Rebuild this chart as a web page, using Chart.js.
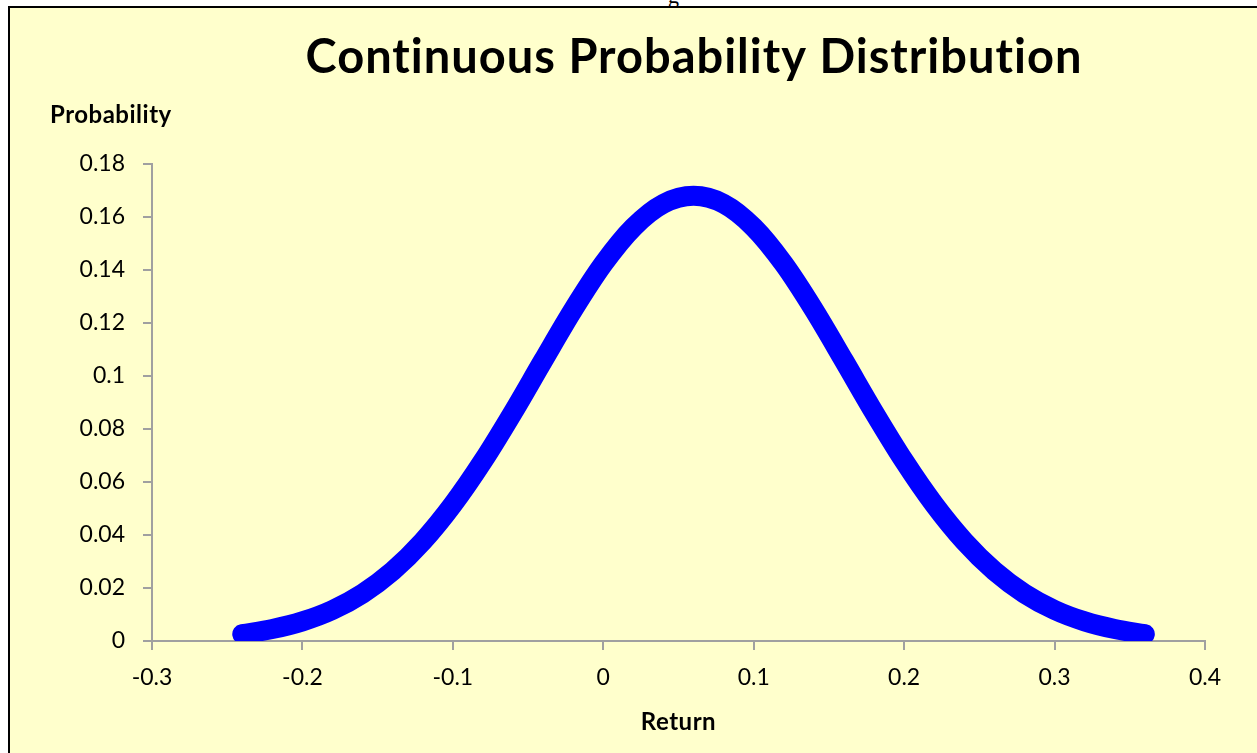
<!DOCTYPE html>
<html>
<head>
<meta charset="utf-8">
<script src="https://cdn.jsdelivr.net/npm/chart.js@4.4.0/dist/chart.umd.min.js"></script>
<style>
  html, body { margin: 0; padding: 0; background: #fff; overflow: hidden; }
  #frame {
    position: absolute; left: 8px; top: 6px; width: 1260px; height: 760px;
    border-left: 2px solid #000; border-top: 2px solid #000;
    background: #FFFFCC;
  }
  #clip { position: absolute; left: 668px; top: 0; width: 30px; height: 6px; overflow: hidden; }
  #clip span { position: absolute; top: -17px; left: 0; font: 22px "Liberation Serif", serif; color: #000; }
  #wrap { position: absolute; left: 0; top: 0; width: 1257px; height: 753px; }
</style>
</head>
<body>
<div id="clip"><span>g</span></div>
<div id="frame"></div>
<div id="wrap"><canvas id="dist-chart" width="1257" height="753"></canvas></div>
<script>
// values
var returns = [-0.24, -0.22, -0.20, -0.18, -0.16, -0.14, -0.12, -0.10, -0.08, -0.06, -0.04, -0.02,
               0.00, 0.02, 0.04, 0.06, 0.08, 0.10, 0.12, 0.14, 0.16, 0.18, 0.20, 0.22, 0.24,
               0.26, 0.28, 0.30, 0.32, 0.34, 0.36];
var probabilities = [0.0026, 0.0045, 0.0074, 0.0117, 0.0179, 0.0264, 0.0376, 0.0515, 0.0679, 0.0863, 0.1058, 0.1250,
                     0.1423, 0.1561, 0.1650, 0.1680, 0.1650, 0.1561, 0.1423, 0.1250, 0.1058, 0.0863, 0.0679, 0.0515, 0.0376,
                     0.0264, 0.0179, 0.0117, 0.0074, 0.0045, 0.0026];
var yTicks = [0, 0.02, 0.04, 0.06, 0.08, 0.1, 0.12, 0.14, 0.16, 0.18];
var xTicks = [-0.3, -0.2, -0.1, 0, 0.1, 0.2, 0.3, 0.4];

var chartTitle = 'Continuous Probability Distribution';
var yTitle = 'Probability';
var xTitle = 'Return';

var FONT = 'Lato, "Open Sans", sans-serif';
var AXIS = '#A0A0A0';

var points = returns.map(function(r, i) { return { x: r, y: probabilities[i] }; });

function fmt(v) { return String(+Number(v).toFixed(2)); }

// draws the title and the two axis captions
var captions = {
  id: 'captions',
  afterDraw: function(chart) {
    var ctx = chart.ctx, a = chart.chartArea;
    ctx.save();
    ctx.fillStyle = '#000';
    ctx.textBaseline = 'middle';
    ctx.textAlign = 'center';
    ctx.letterSpacing = '1px'; // also stops the "ti" ligature
    ctx.font = 'bold 47px ' + FONT;
    ctx.fillText(chartTitle, 694, 58);
    ctx.letterSpacing = '0.5px';
    ctx.textAlign = 'left';
    ctx.font = 'bold 24px ' + FONT;
    ctx.fillText(yTitle, 50, 115);
    ctx.textAlign = 'center';
    ctx.fillText(xTitle, (a.left + a.right) / 2, 722);
    ctx.restore();
  }
};

var ctx = document.getElementById('dist-chart').getContext('2d');
window.distChart = new Chart(ctx, {
  type: 'line',
  data: {
    datasets: [{
      data: points,
      borderColor: '#0000FF',
      borderWidth: 20,
      borderCapStyle: 'round',
      borderJoinStyle: 'round',
      pointRadius: 0,
      fill: false,
      cubicInterpolationMode: 'monotone'
    }]
  },
  options: {
    responsive: false,
    animation: false,
    layout: { padding: { left: 0, right: 52, top: 164, bottom: 0 } },
    plugins: { legend: { display: false }, title: { display: false }, tooltip: { enabled: false } },
    scales: {
      x: {
        type: 'linear',
        min: -0.3, max: 0.4,
        afterBuildTicks: function(s) { s.ticks = xTicks.map(function(v) { return { value: v }; }); },
        afterFit: function(s) { s.height = 112; },
        grid: { drawOnChartArea: false, drawTicks: true, tickLength: 9, color: AXIS, lineWidth: 2 },
        border: { color: AXIS, width: 2 },
        ticks: { color: '#000', font: { family: FONT, size: 23 }, padding: 14, maxRotation: 0, callback: fmt }
      },
      y: {
        min: 0, max: 0.18,
        afterBuildTicks: function(s) { s.ticks = yTicks.map(function(v) { return { value: v }; }); },
        afterFit: function(s) { s.width = 152; },
        grid: { drawOnChartArea: false, drawTicks: true, tickLength: 9, color: AXIS, lineWidth: 2 },
        border: { color: AXIS, width: 2 },
        ticks: { color: '#000', font: { family: FONT, size: 23 }, padding: 18, callback: fmt }
      }
    }
  },
  plugins: [captions]
});
</script>
</body>
</html>
